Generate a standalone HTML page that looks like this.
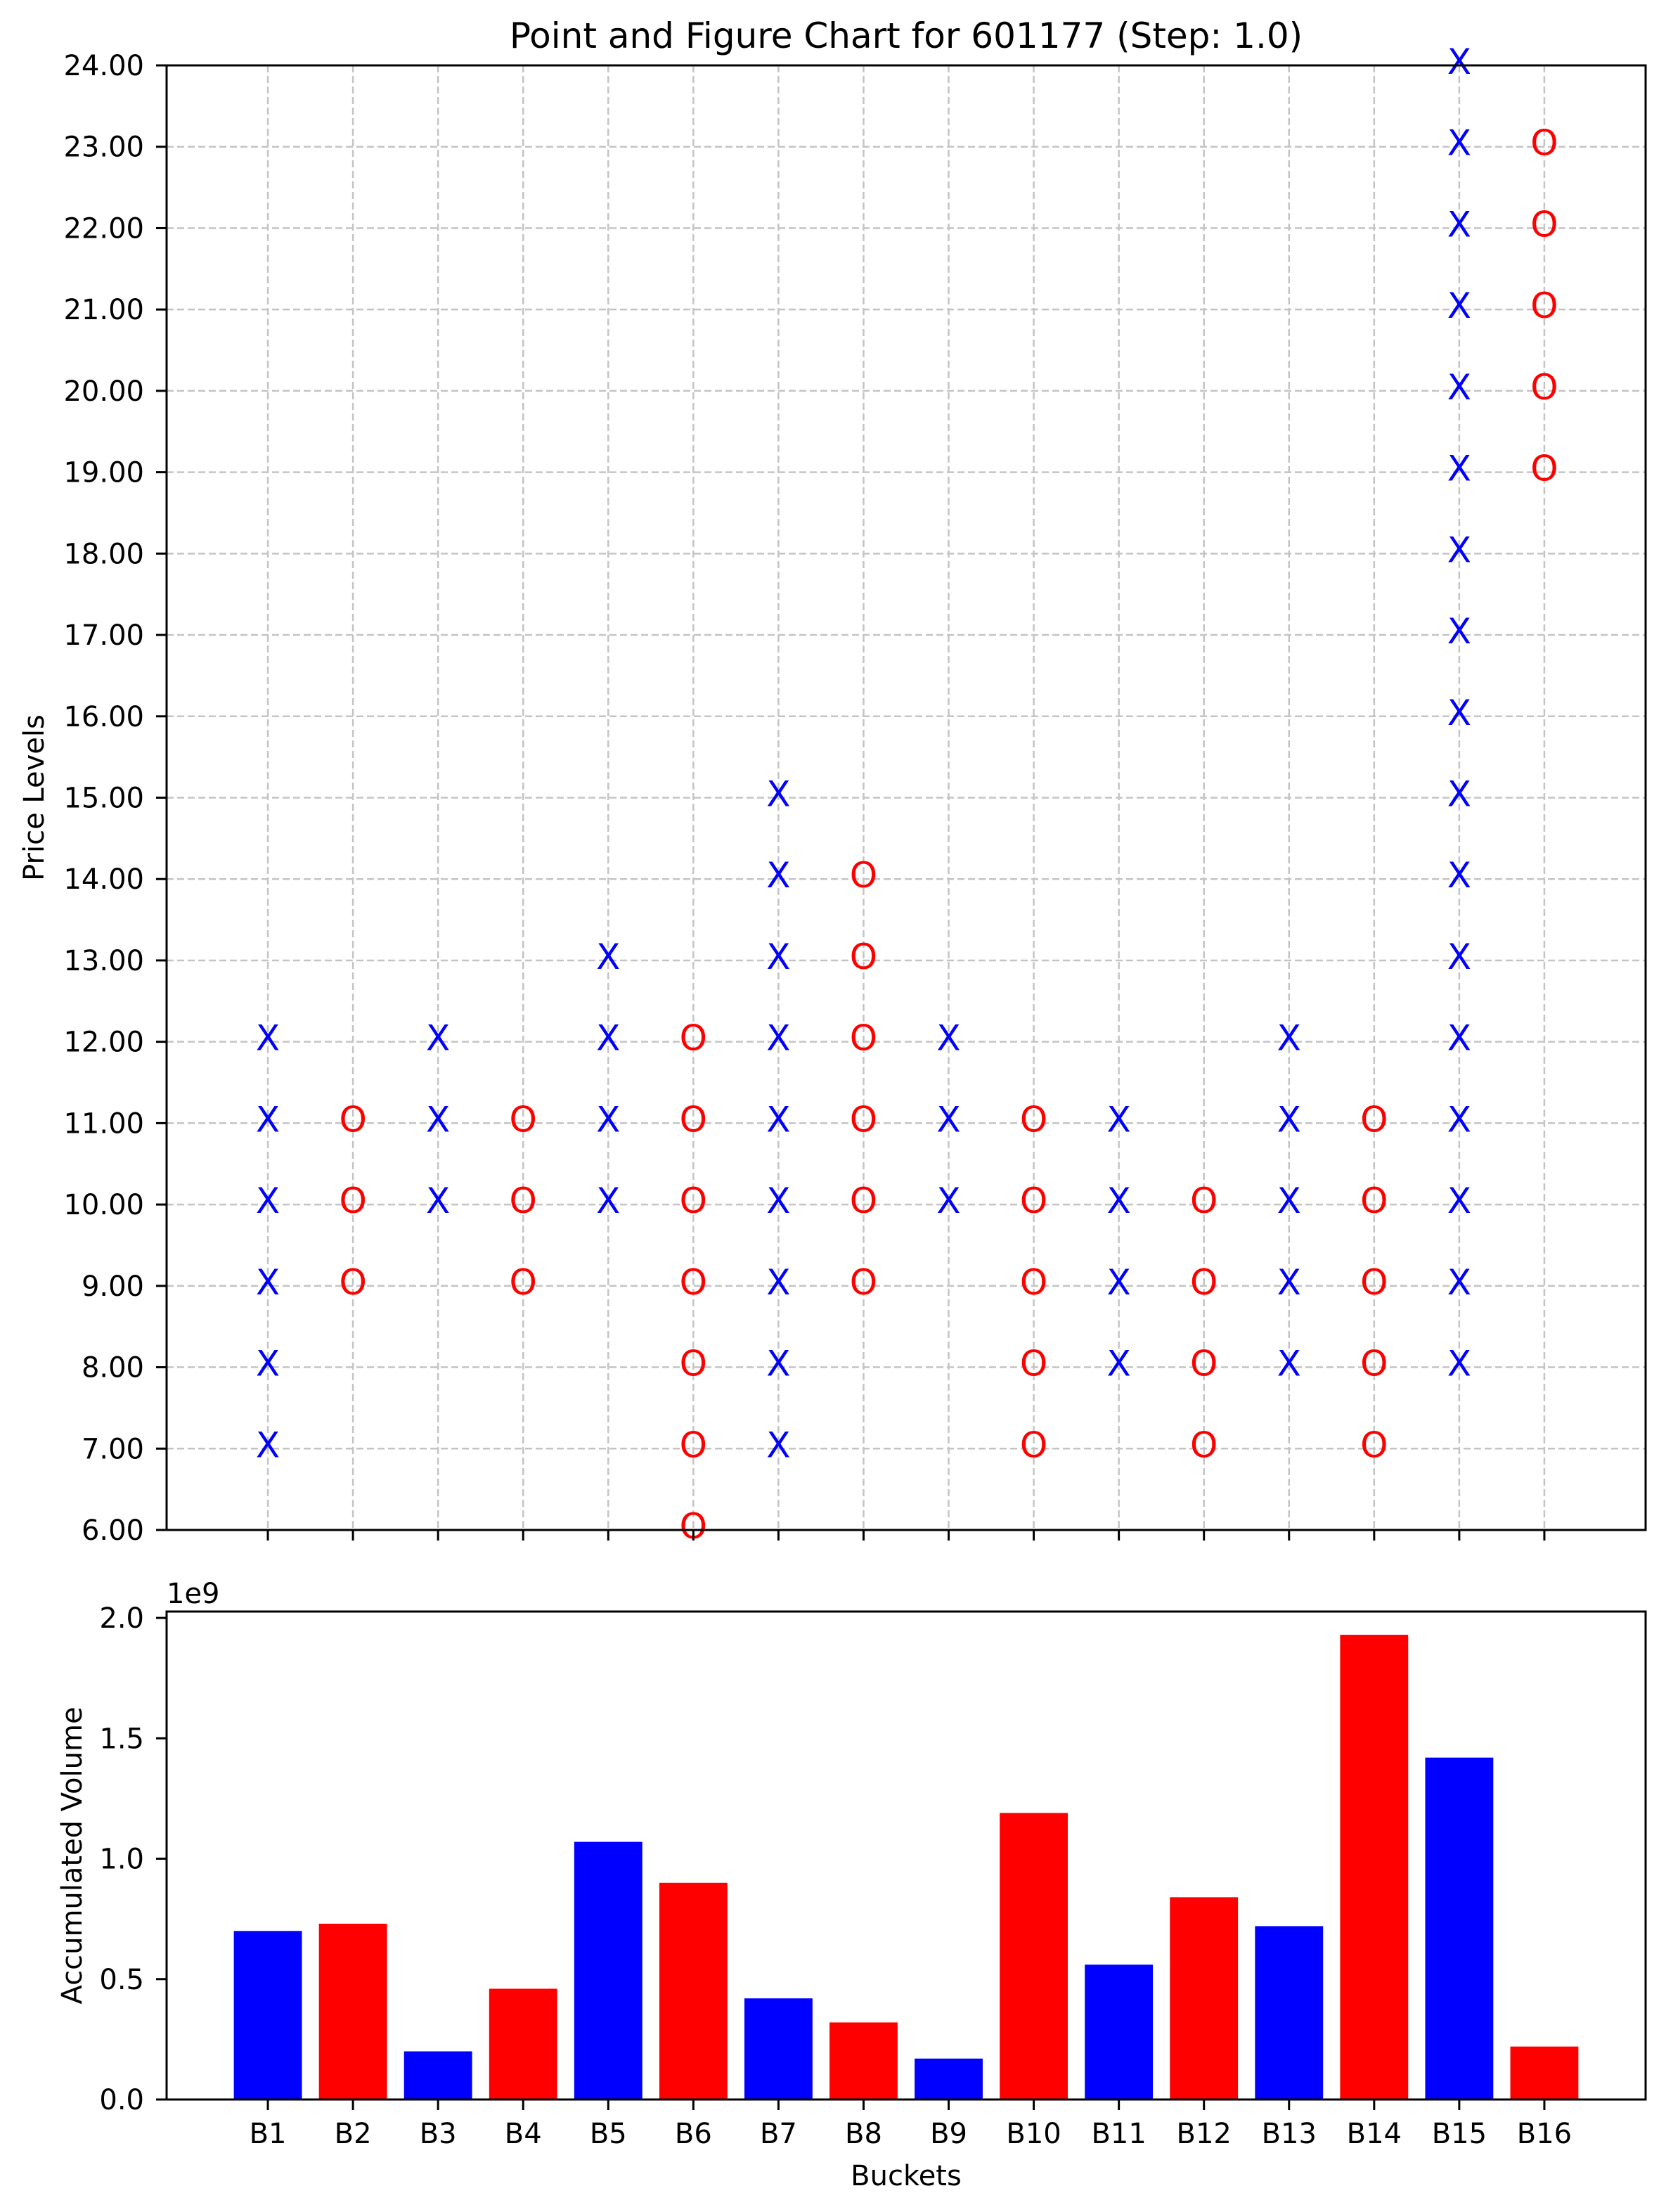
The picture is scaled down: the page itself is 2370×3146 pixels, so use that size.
<!DOCTYPE html>
<html><head><meta charset="utf-8"><style>
html,body{margin:0;padding:0;background:#fff}
svg{display:block;font-family:"DejaVu Sans","Liberation Sans",sans-serif}
</style></head><body>
<svg id="chart" width="2370" height="3146" viewBox="0 0 2370 3146" xmlns="http://www.w3.org/2000/svg"></svg>
<script>
const buckets=["B1","B2","B3","B4","B5","B6","B7","B8","B9","B10","B11","B12","B13","B14","B15","B16"];
const colType=["X","O","X","O","X","O","X","O","X","O","X","O","X","O","X","O"];
const colLow=[7,9,10,9,10,6,7,9,10,7,8,7,8,7,8,19];
const colHigh=[12,11,12,11,13,12,15,14,12,11,11,10,12,11,24,23];
const volumes=[0.70,0.73,0.20,0.46,1.07,0.90,0.42,0.32,0.17,1.19,0.56,0.84,0.72,1.93,1.42,0.22];
const priceTicks=[6,7,8,9,10,11,12,13,14,15,16,17,18,19,20,21,22,23,24];
const volTicks=[0,0.5,1.0,1.5,2.0];

const NS="http://www.w3.org/2000/svg";
const svg=document.getElementById('chart');
function el(tag,attrs,parent,text){const e=document.createElementNS(NS,tag);for(const k in attrs)e.setAttribute(k,attrs[k]);if(text!==undefined)e.textContent=text;(parent||svg).appendChild(e);return e;}
const L=237,R=2341,T1=93,B1=2176,T2=2292,B2=2986;
const xmin=-1.19,xmax=16.19;
const xs=i=>L+(i-xmin)/(xmax-xmin)*(R-L);
const y1=v=>B1-(v-6)/(24-6)*(B1-T1);
const vmax=Math.max(...volumes)*1.05;
const y2=v=>B2-v/vmax*(B2-T2);
const FS=40;

let t=el('text',{x:(L+R)/2,y:68,'text-anchor':'middle','font-size':'50'},svg,'Point and Figure Chart for 601177 (Step: 1.0)');



const g1=el('g',{});


priceTicks.forEach(v=>{el('line',{x1:L,x2:R,y1:y1(v),y2:y1(v),stroke:'#c4c4c4','stroke-width':2.5,'stroke-dasharray':'10,5'},g1);});
buckets.forEach((b,i)=>{el('line',{x1:xs(i),x2:xs(i),y1:T1,y2:B1,stroke:'#c4c4c4','stroke-width':2.5,'stroke-dasharray':'10,5'},g1);});

const gm=el('g',{});


buckets.forEach((b,i)=>{
  for(let p=colLow[i];p<=colHigh[i];p++){
    const m=el('text',{x:xs(i),y:y1(p)+12,'text-anchor':'middle','font-size':'50',fill:colType[i]==='X'?'#0000ff':'#ff0000'},gm,colType[i]);
    
    
  }
});

const a1=el('g',{});


el('rect',{x:L,y:T1,width:R-L,height:B1-T1,fill:'none',stroke:'#000','stroke-width':3},a1);
priceTicks.forEach(v=>{
  el('line',{x1:L-15,x2:L,y1:y1(v),y2:y1(v),stroke:'#000','stroke-width':3},a1);
  el('text',{x:L-32,y:y1(v)+14,'text-anchor':'end','font-size':FS},a1,v.toFixed(2));
});
buckets.forEach((b,i)=>{el('line',{x1:xs(i),x2:xs(i),y1:B1,y2:B1+15,stroke:'#000','stroke-width':3},a1);});
t=el('text',{x:0,y:0,'text-anchor':'middle','font-size':FS,transform:`translate(62,${(T1+B1)/2}) rotate(-90)`},svg,'Price Levels');



const gb=el('g',{});


const bw=(xs(0.4)-xs(-0.4));
volumes.forEach((v,i)=>{
  const r=el('rect',{x:xs(i)-bw/2,y:y2(v),width:bw,height:y2(0)-y2(v),fill:colType[i]==='X'?'#0000ff':'#ff0000'},gb);
  
  
});

const a2=el('g',{});


el('rect',{x:L,y:T2,width:R-L,height:B2-T2,fill:'none',stroke:'#000','stroke-width':3},a2);
volTicks.forEach(v=>{
  el('line',{x1:L-15,x2:L,y1:y2(v),y2:y2(v),stroke:'#000','stroke-width':3},a2);
  el('text',{x:L-32,y:y2(v)+14,'text-anchor':'end','font-size':FS},a2,v.toFixed(1));
});
el('text',{x:L,y:T2-12,'font-size':FS},a2,'1e9');
buckets.forEach((b,i)=>{
  el('line',{x1:xs(i),x2:xs(i),y1:B2,y2:B2+15,stroke:'#000','stroke-width':3},a2);
  el('text',{x:xs(i),y:3048,'text-anchor':'middle','font-size':FS},a2,b);
});
t=el('text',{x:(L+R)/2,y:3108,'text-anchor':'middle','font-size':FS},svg,'Buckets');


t=el('text',{x:0,y:0,'text-anchor':'middle','font-size':FS,transform:`translate(116,${(T2+B2)/2}) rotate(-90)`},svg,'Accumulated Volume');


</script>
</body></html>
